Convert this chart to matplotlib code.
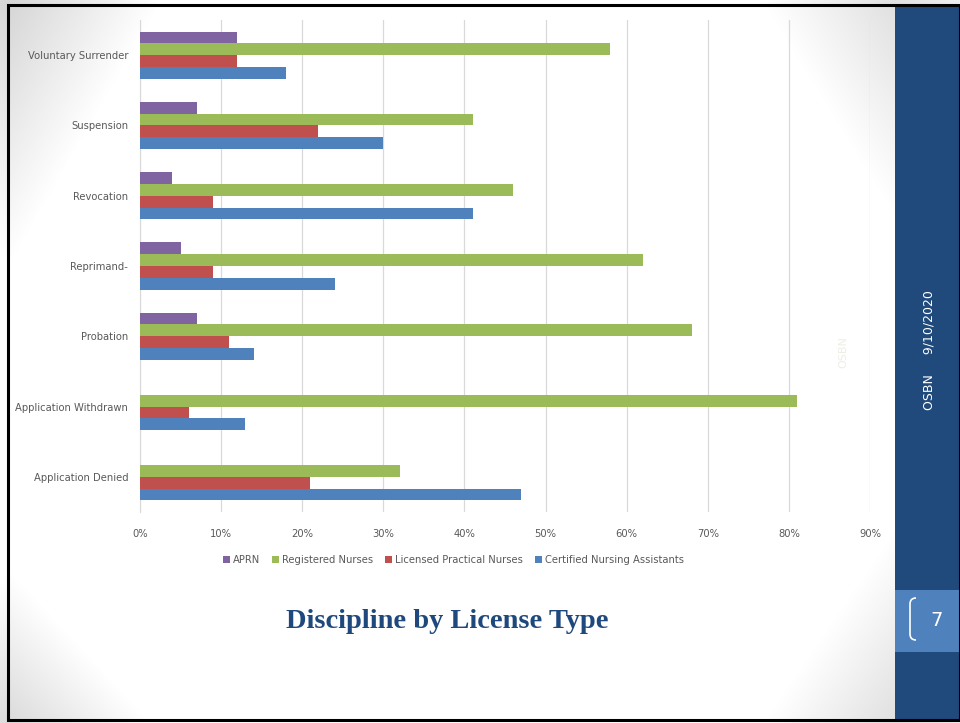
import numpy as np
import matplotlib; matplotlib.use("Agg")
import matplotlib.pyplot as plt
from matplotlib.patches import Rectangle, FancyBboxPatch

categories = ['Voluntary Surrender', 'Suspension', 'Revocation', 'Reprimand-',
              'Probation', 'Application Withdrawn', 'Application Denied']
series = ['APRN', 'Registered Nurses', 'Licensed Practical Nurses',
          'Certified Nursing Assistants']
aprn = [12, 7, 4, 5, 7, 0, 0]
rn = [58, 41, 46, 62, 68, 81, 32]
lpn = [12, 22, 9, 9, 11, 6, 21]
cna = [18, 30, 41, 24, 14, 13, 47]
colors = ['#8064A2', '#9BBB59', '#C0504D', '#4F81BD']
xticks = [0, 10, 20, 30, 40, 50, 60, 70, 80, 90]

W, H = 960, 723
fig = plt.figure(figsize=(9.6, 7.23), dpi=100)

# slide background, grey only in the corners
bg = fig.add_axes([0, 0, 1, 1])
bg.set_xlim(0, W)
bg.set_ylim(H, 0)
bg.axis('off')
yy, xx = np.mgrid[0:H, 0:W].astype(float)
shade = np.ones((H, W))
corners = [(8, 5, 150, 260, 0.16), (8, 720, 140, 150, 0.14),
           (895, 5, 130, 210, 0.12), (895, 720, 130, 190, 0.12)]
for cx, cy, sx, sy, amt in corners:
    d = np.abs(xx - cx) / sx + np.abs(yy - cy) / sy
    shade -= amt * np.clip(1 - d, 0, 1)
img = np.dstack([shade, shade, shade])
bg.imshow(img, extent=[0, W, H, 0], aspect='auto', zorder=0)
bg.add_patch(Rectangle((8, 5), 952, 715, fill=False, ec='black', lw=2.2, zorder=3))
bg.add_patch(Rectangle((895, 5), 65, 715, fc='#214A7C', ec='none', zorder=2))
bg.add_patch(Rectangle((895, 590), 65, 62, fc='#4F81BD', ec='none', zorder=2))
bg.add_patch(FancyBboxPatch((910, 598), 12, 42, boxstyle='round,pad=0,rounding_size=6',
                            fc='none', ec='white', lw=1.2, zorder=3))
bg.add_patch(Rectangle((916, 594), 10, 50, fc='#4F81BD', ec='none', zorder=4))
bg.text(937, 620, '7', color='white', fontsize=14, ha='center', va='center', zorder=5)
bg.text(929, 350, 'OSBN     9/10/2020', color='white', fontsize=9, rotation=90,
        ha='center', va='center', zorder=5)
bg.text(843, 352, 'OSBN', color='#EFEEE4', fontsize=8, rotation=90,
        ha='center', va='center', zorder=1)
bg.text(447, 622, 'Discipline by License Type', color='#1F497D', fontsize=20.5,
        fontweight='bold', family='Liberation Serif', ha='center', va='center', zorder=5)

# chart
ax = fig.add_axes([140 / W, 1 - 512 / H, 730 / W, 492 / H])
ax.patch.set_alpha(0)
y = np.arange(len(categories))
bh = 0.168
data = [aprn, rn, lpn, cna]
for i, (vals, c, lab) in enumerate(zip(data, colors, series)):
    ax.barh(y + (i - 1.5) * bh, vals, height=bh, color=c, label=lab, zorder=3)

ax.set_xlim(0, 90)
ax.set_ylim(len(categories) - 0.5, -0.5)
ax.set_xticks(xticks)
ax.set_xticklabels([f'{t}%' for t in xticks])
ax.set_yticks(y)
ax.set_yticklabels(categories)
ax.grid(axis='x', color='#D9D9D9', lw=0.9, zorder=0)
ax.tick_params(length=0, labelsize=7.2, labelcolor='#595959')
ax.tick_params(axis='x', pad=12)
ax.tick_params(axis='y', pad=8.5)
for s in ['top', 'right', 'bottom']:
    ax.spines[s].set_visible(False)
ax.spines['left'].set_color('#D9D9D9')
ax.legend(loc='center', bbox_to_anchor=(0.429, -0.097), ncol=4, frameon=False,
          fontsize=7.2, labelcolor='#595959', handlelength=0.7, handleheight=0.7,
          handletextpad=0.3, columnspacing=1.2)

fig.savefig('out.png', dpi=100)
